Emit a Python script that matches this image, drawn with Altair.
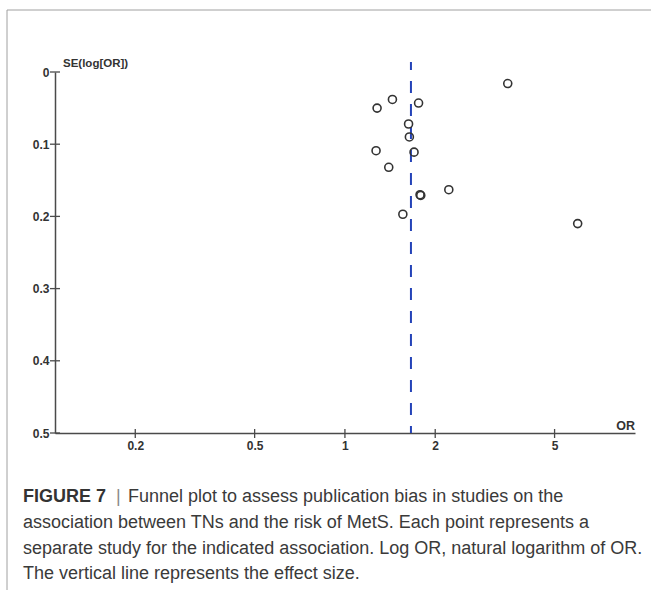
import altair as alt
import pandas as pd

# ---- data ----
or_values = [3.49, 1.44, 1.28, 1.76, 1.63, 1.64, 1.27, 1.70, 1.40, 2.22, 1.78, 1.79, 1.56, 5.97]
se_values = [0.016, 0.038, 0.050, 0.043, 0.072, 0.090, 0.109, 0.111, 0.132, 0.163, 0.170, 0.171, 0.197, 0.210]
effect_size = [1.66]
x_ticks = [0.2, 0.5, 1, 2, 5]
y_ticks = [0, 0.1, 0.2, 0.3, 0.4, 0.5]
x_domain = [0.108, 9.27]
y_domain = [0, 0.5]

caption_head = "FIGURE 7"
caption_lines = [
    "Funnel plot to assess publication bias in studies on the",
    "association between TNs and the risk of MetS. Each point represents a",
    "separate study for the indicated association. Log OR, natural logarithm of OR.",
    "The vertical line represents the effect size.",
]

W, H = 580, 361
FONT = "Liberation Sans"
AX = "#4a4a4a"

xscale = alt.Scale(type="log", domain=x_domain, nice=False)
yscale = alt.Scale(domain=y_domain, reverse=True, nice=False, zero=False)

xaxis = alt.Axis(values=x_ticks, format="~g", ticks=False, grid=False, title=None,
                 domainColor=AX, domainWidth=1.5, labelPadding=7,
                 labelFont=FONT, labelFontWeight="bold", labelFontSize=12, labelColor="#333")
yaxis = alt.Axis(values=y_ticks, format="~g", ticks=False, grid=False, title=None,
                 domainColor=AX, domainWidth=1.5, labelPadding=6,
                 labelFont=FONT, labelFontWeight="bold", labelFontSize=12, labelColor="#333")


def X(field="OR"):
    return alt.X(f"{field}:Q", scale=xscale, axis=xaxis)


def Y(field="SE"):
    return alt.Y(f"{field}:Q", scale=yscale, axis=yaxis)


df = pd.DataFrame({"OR": or_values, "SE": se_values})
dummy = pd.DataFrame({"k": [0]})

points = alt.Chart(df).mark_point(shape="circle", filled=False, size=64, color="#333",
                                  strokeWidth=1.6, opacity=1).encode(x=X(), y=Y())

effect = alt.Chart(pd.DataFrame({"OR": effect_size})).mark_rule(
    color="#2443b8", strokeWidth=2, strokeDash=[12, 11], strokeDashOffset=4
).encode(x=X(), y=alt.value(-10), y2=alt.value(H))

xt = alt.Chart(pd.DataFrame({"OR": x_ticks})).mark_rule(color=AX, strokeWidth=1.3).encode(
    x=X(), y=alt.value(H - 4), y2=alt.value(H + 5))
yt = alt.Chart(pd.DataFrame({"SE": y_ticks})).mark_rule(color=AX, strokeWidth=1.3).encode(
    y=Y(), x=alt.value(-5), x2=alt.value(5))

ytitle = alt.Chart(dummy).mark_text(text="SE(log[OR])", font=FONT, fontSize=11.5, fontWeight="bold",
                                    color="#333", align="left", baseline="alphabetic").encode(
    x=alt.value(8), y=alt.value(-5))
xtitle = alt.Chart(dummy).mark_text(text="OR", font=FONT, fontSize=12.5, fontWeight="bold",
                                    color="#333", align="right", baseline="alphabetic").encode(
    x=alt.value(W), y=alt.value(H - 3))

frame_top = alt.Chart(dummy).mark_rule(color="#a0a0a0", strokeWidth=1).encode(
    x=alt.value(-48), x2=alt.value(W + 16), y=alt.value(-62))
frame_left = alt.Chart(dummy).mark_rule(color="#a0a0a0", strokeWidth=1).encode(
    x=alt.value(-48), y=alt.value(-62), y2=alt.value(H + 157))

CAP_X = -32
base_y = [430, 456, 482, 507]
cap_layers = [
    alt.Chart(dummy).mark_text(text=caption_head, font=FONT, fontSize=18, fontWeight="bold",
                               color="#333", align="left", baseline="alphabetic").encode(
        x=alt.value(CAP_X), y=alt.value(base_y[0])),
    alt.Chart(dummy).mark_text(text="|", font=FONT, fontSize=18, color="#8a8a8a",
                               align="left", baseline="alphabetic").encode(
        x=alt.value(61), y=alt.value(base_y[0])),
    alt.Chart(dummy).mark_text(text=caption_lines[0], font=FONT, fontSize=18, color="#3a3a3a",
                               align="left", baseline="alphabetic").encode(
        x=alt.value(73), y=alt.value(base_y[0])),
]
for i in range(1, 4):
    cap_layers.append(
        alt.Chart(dummy).mark_text(text=caption_lines[i], font=FONT, fontSize=18, color="#3a3a3a",
                                   align="left", baseline="alphabetic").encode(
            x=alt.value(CAP_X), y=alt.value(base_y[i])))

chart = alt.layer(
    frame_top, frame_left, effect, xt, yt, points, ytitle, xtitle, *cap_layers
).properties(
    width=W, height=H,
    autosize=alt.AutoSizeParams(type="none"),
    padding={"left": 55, "top": 72, "right": 16, "bottom": 157},
    background="white",
).configure_view(stroke=None)

chart.save("out.html", embed_options={"renderer": "svg", "actions": False})
